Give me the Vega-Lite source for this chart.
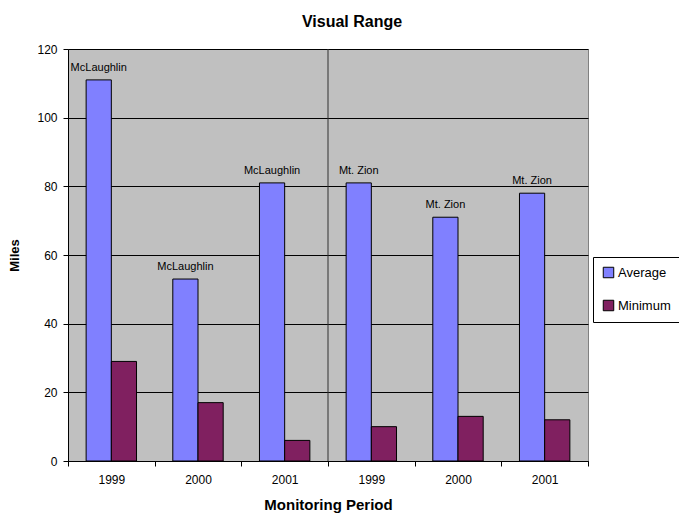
{
  "$schema": "https://vega.github.io/schema/vega-lite/v6.json",
  "autosize": "none",
  "width": 520,
  "height": 412,
  "padding": {"left": 68, "top": 49, "right": 91, "bottom": 52},
  "background": "white",
  "title": {"text": "Visual Range", "fontSize": 16, "fontWeight": "bold", "font": "Liberation Sans", "anchor": "middle", "dx": 24, "offset": 13, "color": "black"},
  "config": {
    "font": "Liberation Sans",
    "view": {"fill": "#C0C0C0", "stroke": "#808080", "strokeWidth": 1},
    "axis": {"labelFont": "Liberation Sans", "titleFont": "Liberation Sans", "labelColor": "black", "titleColor": "black", "domainColor": "black", "tickColor": "black"}
  },
  "data": {"values": [
    {"period": "McLaughlin 1999", "site": "McLaughlin", "series": "Average", "value": 111},
    {"period": "McLaughlin 1999", "site": "McLaughlin", "series": "Minimum", "value": 29},
    {"period": "McLaughlin 2000", "site": "McLaughlin", "series": "Average", "value": 53},
    {"period": "McLaughlin 2000", "site": "McLaughlin", "series": "Minimum", "value": 17},
    {"period": "McLaughlin 2001", "site": "McLaughlin", "series": "Average", "value": 81},
    {"period": "McLaughlin 2001", "site": "McLaughlin", "series": "Minimum", "value": 6},
    {"period": "Mt. Zion 1999", "site": "Mt. Zion", "series": "Average", "value": 81},
    {"period": "Mt. Zion 1999", "site": "Mt. Zion", "series": "Minimum", "value": 10},
    {"period": "Mt. Zion 2000", "site": "Mt. Zion", "series": "Average", "value": 71},
    {"period": "Mt. Zion 2000", "site": "Mt. Zion", "series": "Minimum", "value": 13},
    {"period": "Mt. Zion 2001", "site": "Mt. Zion", "series": "Average", "value": 78},
    {"period": "Mt. Zion 2001", "site": "Mt. Zion", "series": "Minimum", "value": 12}
  ]},
  "layer": [
    {
      "mark": {"type": "bar", "stroke": "black", "strokeWidth": 1},
      "encoding": {
        "x": {"field": "period", "type": "nominal", "sort": null,
              "scale": {"paddingInner": 0, "paddingOuter": 0},
              "axis": {"title": "Monitoring Period", "titleFontSize": 15, "titleFontWeight": "bold", "titlePadding": 12, "labelAngle": 0, "labelFontSize": 12, "labelPadding": 8, "tickBand": "extent", "tickSize": 5, "labelExpr": "slice(datum.label, -4)"}},
        "xOffset": {"field": "series", "type": "nominal", "scale": {"paddingInner": 0, "paddingOuter": 0.72}},
        "y": {"field": "value", "type": "quantitative",
              "scale": {"domain": [0, 120], "nice": false},
              "axis": {"title": "Miles", "titleFontSize": 13, "titleFontWeight": "bold", "titlePadding": 15, "values": [0, 20, 40, 60, 80, 100, 120], "labelFontSize": 12, "tickSize": 5, "labelPadding": 6, "grid": true, "gridColor": "black", "gridOpacity": 1, "gridWidth": 1}},
        "color": {"field": "series", "type": "nominal",
                  "scale": {"domain": ["Average", "Minimum"], "range": ["#8080FF", "#802060"]},
                  "legend": {"title": null, "orient": "none", "legendX": 525, "legendY": 208, "symbolType": "square", "symbolSize": 110, "symbolStrokeColor": "black", "symbolStrokeWidth": 1, "labelFontSize": 13, "labelColor": "black", "rowPadding": 18, "strokeColor": "black", "fillColor": "white", "padding": 9, "labelOffset": 3}}
      }
    },
    {
      "mark": {"type": "rule", "color": "#303030", "strokeWidth": 1},
      "transform": [{"filter": "datum.period === 'Mt. Zion 1999' && datum.series === 'Average'"}],
      "encoding": {
        "x": {"field": "period", "type": "nominal", "sort": null, "bandPosition": 0}
      }
    },
    {
      "mark": {"type": "text", "fontSize": 11, "dy": -12, "color": "black"},
      "transform": [{"filter": "datum.series === 'Average'"}],
      "encoding": {
        "x": {"field": "period", "type": "nominal", "sort": null},
        "xOffset": {"field": "series", "type": "nominal"},
        "y": {"field": "value", "type": "quantitative"},
        "text": {"field": "site", "type": "nominal"}
      }
    }
  ]
}
